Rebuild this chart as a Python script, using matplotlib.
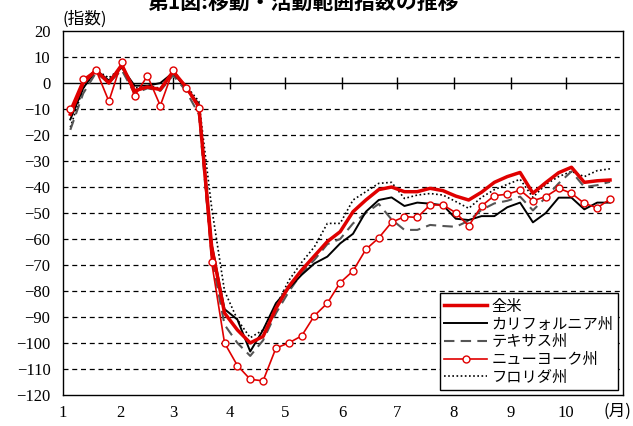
import numpy as np
import pandas as pd
import matplotlib
matplotlib.use("Agg")
import matplotlib.pyplot as plt

plt.rcParams['font.family'] = ['Liberation Serif', 'Noto Sans CJK JP']

# weekly points, 2020
dates = pd.date_range('2020-01-05', periods=43, freq='7D')
month_starts = pd.date_range('2020-01-01', periods=11, freq='MS')
month_labels = ['1', '2', '3', '4', '5', '6', '7', '8', '9', '10']

us = [-12, 0, 5, 0, 7, -3, -1.5, -2.5, 4.5, -1.5, -9,
      -63, -88.5, -95, -100, -97.5, -86.7, -78.3, -72, -66.5, -61, -57.2,
      -49.5, -45, -41, -40, -41.8, -41.8, -40.5, -41.4, -43.5, -45, -42,
      -38.2, -36, -34.4, -42.4, -38.3, -34.5, -32.4, -38.2, -37.6, -37.3]
california = [-14, -2, 5, 1, 6, -1, -1, 0, 4, -2, -8,
              -62, -87, -91, -103.3, -95, -84.7, -79, -73.8, -69.4, -66.8, -61.7,
              -58, -49.5, -45, -44, -47.3, -46, -46.4, -47, -52.2, -52.7, -51.2,
              -51.2, -47.8, -46, -53.6, -50, -44.1, -44.1, -48.6, -46, -46]
texas = [-18, -4, 4, 0, 5, -4, -2, -3, 3, -3, -12,
         -67, -93, -100, -105, -99, -88.6, -80.3, -73.2, -68, -62, -60,
         -54, -50, -46.5, -52.5, -56.5, -56.5, -54.6, -55, -55.3, -53, -48.8,
         -46.3, -45.3, -43.7, -49, -44, -38.6, -34, -40, -39.3, -38]
newyork = [-10, 1.5, 5, -7, 8.2, -5, 2.8, -8.7, 5, -1.8, -9.7,
           -69, -100, -108.7, -114, -114.6, -102, -100, -97.3, -89.5, -84.7, -76.8,
           -72.3, -64, -59.6, -53.6, -51.4, -51.7, -46.9, -46.9, -49.9, -55, -47.3,
           -43.3, -42.8, -41.2, -45.3, -43.7, -40.5, -42.4, -46.3, -48, -44.7]
florida = [-17, -2, 5, 2, 6, -2, -1, -2, 4, -1, -7,
           -48, -80, -91, -98, -95, -86, -76, -69, -63, -54, -54,
           -45, -41.8, -38.6, -38.2, -44.4, -43.1, -42.5, -43.1, -45.6, -48.2, -44,
           -41, -39, -37, -44, -39, -36, -34, -36, -33.7, -33]

x = (dates - pd.Timestamp('2020-01-01')).days
mx = (month_starts - pd.Timestamp('2020-01-01')).days

fig = plt.figure(figsize=(6.33, 4.26), dpi=100)
ax = fig.add_axes([0.0995, 0.073, 0.8845, 0.854])

for v in range(-110, 20, 10):
    if v != 0:
        ax.axhline(v, color='black', lw=0.9, ls=(0, (4, 3)), zorder=1)
ax.axhline(0, color='black', lw=1.0, zorder=1)
ax.plot(mx[1:-1], np.zeros(len(mx) - 2), ls='none', marker='|', ms=9, mew=1, color='black', zorder=1)

ax.plot(x, florida, color='black', lw=1.2, ls=(0, (1, 1.5)), label='フロリダ州', zorder=2)
ax.plot(x, texas, color='#555555', lw=1.5, ls=(0, (5, 3)), label='テキサス州', zorder=3)
ax.plot(x, california, color='black', lw=1.4, label='カリフォルニア州', zorder=4)
ax.plot(x, us, color='#e00000', lw=2.5, label='全米', zorder=5)
ax.plot(x, newyork, color='#e00000', lw=1.2, marker='o', ms=5, mfc='white', mec='#e00000',
        mew=1.0, label='ニューヨーク州', zorder=6)

ax.set_xlim(0, mx[-1])
ax.set_ylim(-120, 20)
ax.set_yticks(range(-120, 21, 10))
ax.set_xticks(mx[:-1])
ax.set_xticklabels(month_labels)
ax.tick_params(axis='x', length=0, pad=7, labelsize=12)
ax.tick_params(axis='y', length=0, pad=9, labelsize=12)
for s in ax.spines.values():
    s.set_linewidth(1.0)

fig.text(0.997, 0.035, '(月)', ha='right', va='center', fontsize=12, family=['Noto Sans CJK JP'])
fig.text(0.099, 0.935, '(指数)', ha='left', va='bottom', fontsize=12, family=['Noto Sans CJK JP'])
fig.text(0.48, 0.995, '第1図:移動・活動範囲指数の推移', ha='center', va='center',
         fontsize=15, fontweight='bold', family=['Noto Sans CJK JP'])

order = ['全米', 'カリフォルニア州', 'テキサス州', 'ニューヨーク州', 'フロリダ州']
h, l = ax.get_legend_handles_labels()
hd = dict(zip(l, h))
leg = ax.legend([hd[k] for k in order], order, loc='lower right', fancybox=False,
                framealpha=1, edgecolor='black', borderaxespad=0.3, handlelength=2.8,
                labelspacing=0.05, borderpad=0.3, handletextpad=0.3,
                prop={'family': 'Noto Sans CJK JP', 'size': 11})
leg.get_frame().set_linewidth(1.0)

fig.savefig('out.png', dpi=100)
